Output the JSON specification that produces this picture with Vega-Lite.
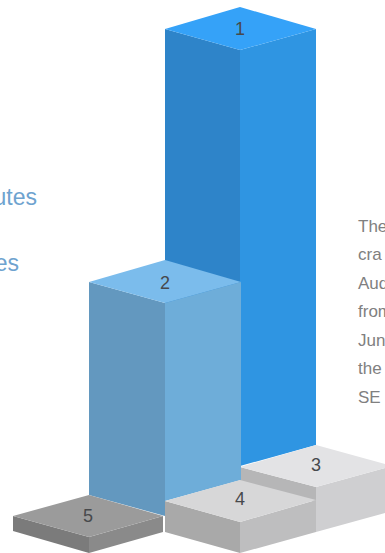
{
  "$schema": "https://vega.github.io/schema/vega-lite/v6.json",
  "width": 385,
  "height": 553,
  "padding": 0,
  "autosize": {"type": "none"},
  "background": "white",
  "view": {"stroke": null},
  "config": {"axis": {"domain": false}},
  "datasets": {
    "faces": [
      {"face": "1 left", "u": 165, "upper": 29, "lower": 445},
      {"face": "1 left", "u": 240, "upper": 50, "lower": 466},
      {"face": "1 right", "u": 240, "upper": 50, "lower": 466},
      {"face": "1 right", "u": 316, "upper": 29, "lower": 445},
      {"face": "1 top", "u": 165, "upper": 29, "lower": 29},
      {"face": "1 top", "u": 240, "upper": 7, "lower": 50},
      {"face": "1 top", "u": 316, "upper": 29, "lower": 29},
      {"face": "3 left", "u": 240, "upper": 467, "lower": 481},
      {"face": "3 left", "u": 316, "upper": 487, "lower": 502},
      {"face": "3 right", "u": 316, "upper": 487, "lower": 532},
      {"face": "3 right", "u": 392, "upper": 466, "lower": 511},
      {"face": "3 top", "u": 240, "upper": 467, "lower": 467},
      {"face": "3 top", "u": 316, "upper": 445, "lower": 487},
      {"face": "3 top", "u": 392, "upper": 466, "lower": 466},
      {"face": "2 left", "u": 89, "upper": 282, "lower": 495},
      {"face": "2 left", "u": 165, "upper": 303, "lower": 516},
      {"face": "2 right", "u": 165, "upper": 303, "lower": 501},
      {"face": "2 right", "u": 241, "upper": 282, "lower": 480},
      {"face": "2 top", "u": 89, "upper": 282, "lower": 282},
      {"face": "2 top", "u": 165, "upper": 260, "lower": 303},
      {"face": "2 top", "u": 241, "upper": 282, "lower": 282},
      {"face": "4 left", "u": 165, "upper": 501, "lower": 532},
      {"face": "4 left", "u": 240, "upper": 522, "lower": 553},
      {"face": "4 right", "u": 240, "upper": 522, "lower": 553},
      {"face": "4 right", "u": 316, "upper": 500, "lower": 532},
      {"face": "4 top", "u": 165, "upper": 501, "lower": 501},
      {"face": "4 top", "u": 240, "upper": 480, "lower": 522},
      {"face": "4 top", "u": 316, "upper": 500, "lower": 500},
      {"face": "5 left", "u": 13, "upper": 516, "lower": 531},
      {"face": "5 left", "u": 89, "upper": 537, "lower": 553},
      {"face": "5 right", "u": 89, "upper": 537, "lower": 553},
      {"face": "5 right", "u": 163, "upper": 516, "lower": 532},
      {"face": "5 top", "u": 13, "upper": 516, "lower": 516},
      {"face": "5 top", "u": 89, "upper": 495, "lower": 537},
      {"face": "5 top", "u": 163, "upper": 516, "lower": 516}
    ],
    "ranks": [
      {"rank": "1", "u": 240, "v": 30},
      {"rank": "2", "u": 165, "v": 284},
      {"rank": "3", "u": 316, "v": 466},
      {"rank": "4", "u": 240, "v": 500},
      {"rank": "5", "u": 88, "v": 517}
    ],
    "leftNotes": [
      {"note": "utes", "u": 37, "v": 205},
      {"note": "es", "u": 19, "v": 271}
    ],
    "rightNotes": [
      {"note": "The", "u": 358, "v": 231.5},
      {"note": "cra", "u": 358, "v": 260},
      {"note": "Aud", "u": 358, "v": 288.5},
      {"note": "from", "u": 358, "v": 317},
      {"note": "Jun", "u": 358, "v": 345.5},
      {"note": "the", "u": 358, "v": 374},
      {"note": "SE", "u": 358, "v": 402.5}
    ]
  },
  "layer": [
    {
      "data": {"name": "faces"},
      "mark": {"type": "area", "orient": "vertical", "clip": true, "interpolate": "linear"},
      "encoding": {
        "x": {"field": "u", "type": "quantitative", "scale": {"domain": [0, 385], "nice": false, "zero": false}, "axis": null},
        "y": {"field": "upper", "type": "quantitative", "scale": {"domain": [553, 0], "nice": false, "zero": false}, "axis": null},
        "y2": {"field": "lower"},
        "color": {
          "field": "face",
          "type": "nominal",
          "legend": null,
          "scale": {
            "domain": ["1 left", "1 right", "1 top", "3 left", "3 right", "3 top", "2 left", "2 right", "2 top", "4 left", "4 right", "4 top", "5 left", "5 right", "5 top"],
            "range": ["#2e84c9", "#2f95e2", "#35a2f8", "#b6b6b7", "#cfcfd1", "#e3e3e5", "#6398bf", "#6eadd9", "#7bbcec", "#a9a9a9", "#bebebf", "#d7d7d8", "#7b7b7b", "#8a8a8a", "#9b9b9b"]
          }
        }
      }
    },
    {
      "data": {"name": "ranks"},
      "mark": {"type": "text", "font": "Liberation Sans", "fontSize": 18, "color": "#47494c", "align": "center", "baseline": "middle"},
      "encoding": {
        "x": {"field": "u", "type": "quantitative"},
        "y": {"field": "v", "type": "quantitative"},
        "text": {"field": "rank"}
      }
    },
    {
      "data": {"name": "leftNotes"},
      "mark": {"type": "text", "clip": true, "font": "Liberation Sans", "fontSize": 23, "color": "#6ea3cf", "align": "right", "baseline": "alphabetic"},
      "encoding": {
        "x": {"field": "u", "type": "quantitative"},
        "y": {"field": "v", "type": "quantitative"},
        "text": {"field": "note"}
      }
    },
    {
      "data": {"name": "rightNotes"},
      "mark": {"type": "text", "clip": true, "font": "Liberation Sans", "fontSize": 17, "color": "#808080", "align": "left", "baseline": "alphabetic"},
      "encoding": {
        "x": {"field": "u", "type": "quantitative"},
        "y": {"field": "v", "type": "quantitative"},
        "text": {"field": "note"}
      }
    }
  ]
}
